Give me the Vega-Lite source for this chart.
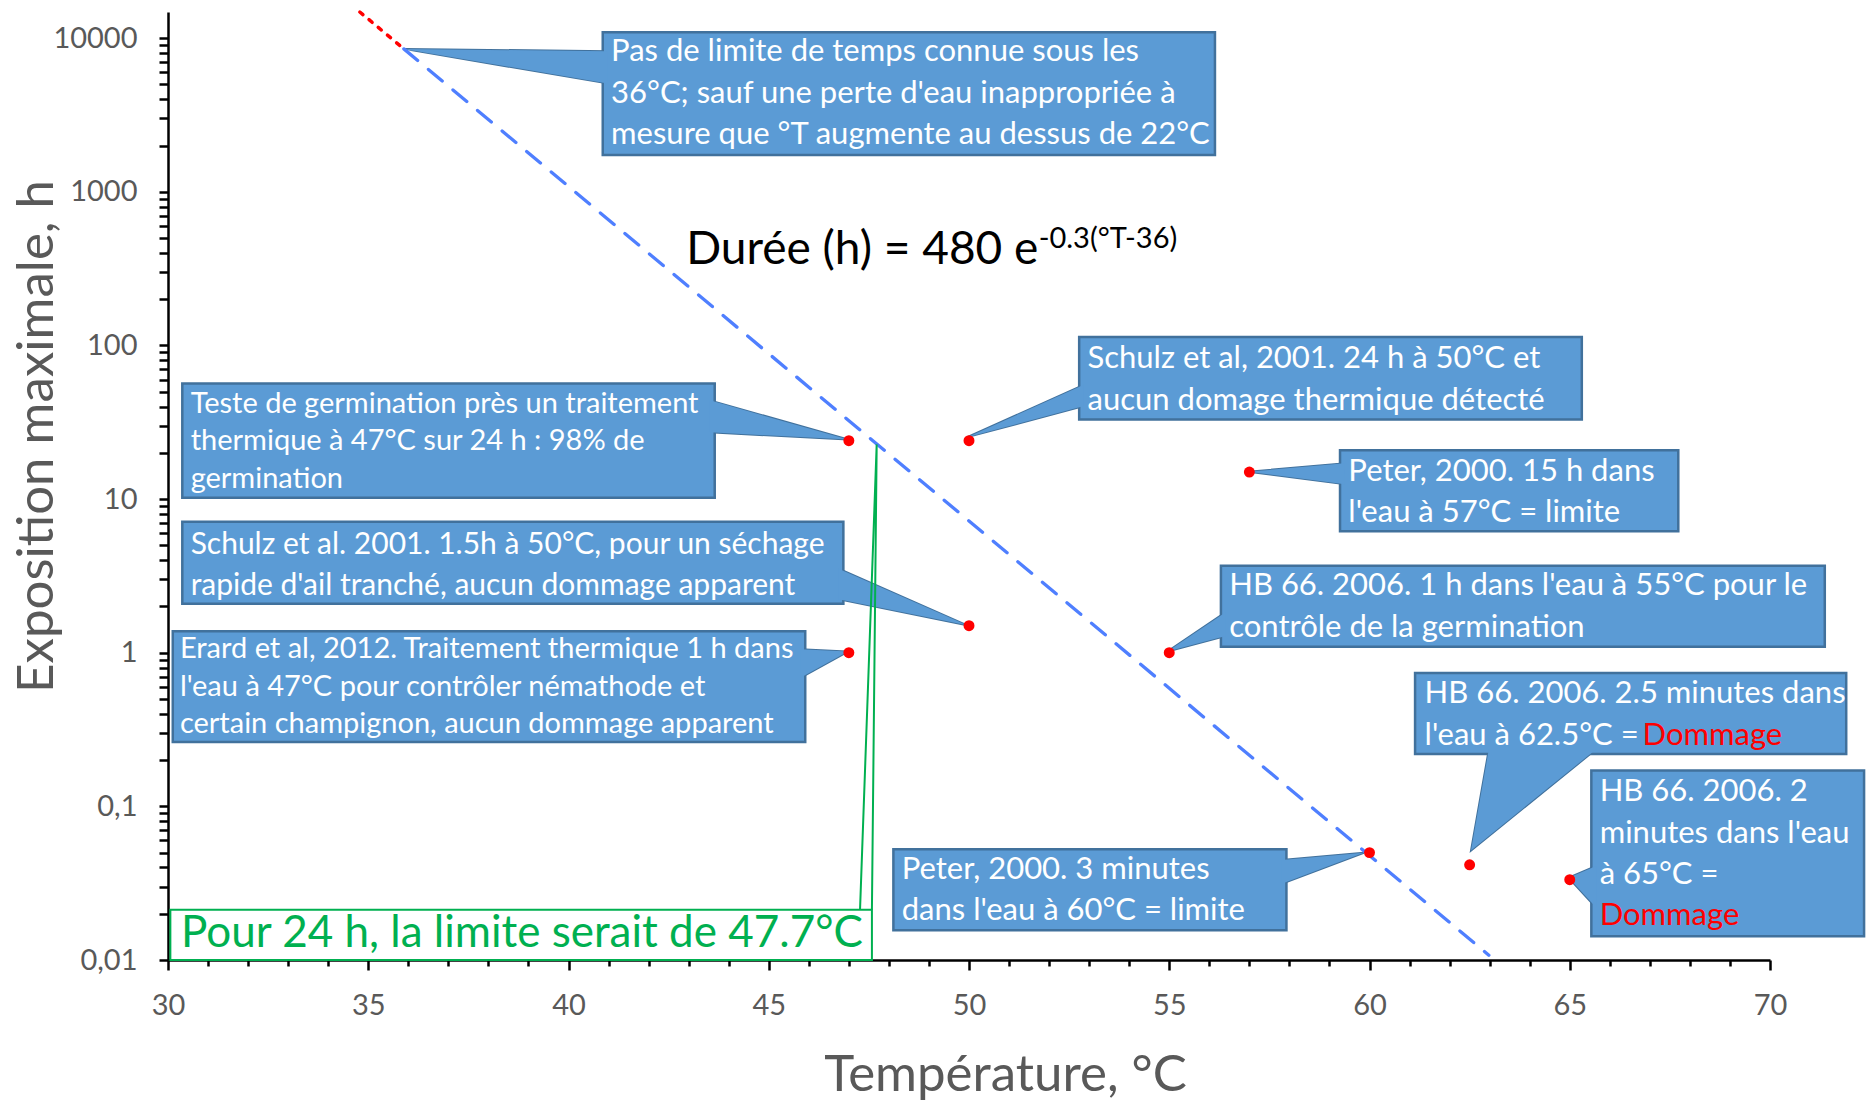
{
  "$schema": "https://vega.github.io/schema/vega-lite/v6.json",
  "width": 1602,
  "height": 948,
  "autosize": {"type": "none"},
  "padding": {"left": 168, "top": 12, "right": 98, "bottom": 141},
  "background": "white",
  "config": {"view": {"stroke": null}, "font": "Lato"},
  "resolve": {"axis": {"x": "independent", "y": "independent"}},
  "datasets": {
    "dots": [
      {"x": 47, "y": 24}, {"x": 50, "y": 24}, {"x": 57, "y": 15}, {"x": 50, "y": 1.5},
      {"x": 47, "y": 1}, {"x": 55, "y": 1}, {"x": 60, "y": 0.05}, {"x": 62.5, "y": 0.04167}, {"x": 65, "y": 0.03333}
    ],
    "boxes": [
      {"id": "b1", "x": 40.855, "x2": 56.141, "y": 10935, "y2": 1739},
      {"id": "b2", "x": 30.357, "x2": 43.651, "y": 56.5, "y2": 10.19},
      {"id": "b3", "x": 30.357, "x2": 46.863, "y": 7.13, "y2": 2.08},
      {"id": "b4", "x": 30.119, "x2": 45.911, "y": 1.38, "y2": 0.2624},
      {"id": "b5", "x": 52.751, "x2": 65.301, "y": 113.3, "y2": 33.0},
      {"id": "b6", "x": 59.264, "x2": 67.71, "y": 20.8, "y2": 6.18},
      {"id": "b7", "x": 56.29, "x2": 71.368, "y": 3.68, "y2": 1.094},
      {"id": "b8", "x": 61.138, "x2": 71.903, "y": 0.738, "y2": 0.2193},
      {"id": "b9", "x": 65.539, "x2": 72.349, "y": 0.171, "y2": 0.01428},
      {"id": "b10", "x": 48.112, "x2": 57.926, "y": 0.0526, "y2": 0.01563}
    ],
    "greenbox": [{"x": 30.059, "x2": 47.576, "y": 0.0212, "y2": 0.01}],
    "ptrV": [
      {"id": "p1", "x": 40.974, "y": 8215, "y2": 5075}, {"id": "p1", "x": 35.889, "y": 8515, "y2": 8515},
      {"id": "p2", "x": 43.53, "y": 43.9, "y2": 27.2}, {"id": "p2", "x": 46.98, "y": 24.4, "y2": 24.4},
      {"id": "p3", "x": 46.744, "y": 3.52, "y2": 2.23}, {"id": "p3", "x": 49.955, "y": 1.507, "y2": 1.507},
      {"id": "p4", "x": 45.792, "y": 1.055, "y2": 0.687}, {"id": "p4", "x": 46.98, "y": 1.018, "y2": 1.018},
      {"id": "p5", "x": 52.87, "y": 55.4, "y2": 40.3}, {"id": "p5", "x": 49.955, "y": 25.3, "y2": 25.3},
      {"id": "p6", "x": 59.383, "y": 17.1, "y2": 12.5}, {"id": "p6", "x": 56.974, "y": 15.07, "y2": 15.07},
      {"id": "p7", "x": 56.409, "y": 1.837, "y2": 1.285}, {"id": "p7", "x": 54.952, "y": 1.018, "y2": 1.018},
      {"id": "p9", "x": 65.658, "y": 0.0409, "y2": 0.02193}, {"id": "p9", "x": 64.973, "y": 0.0343, "y2": 0.0343},
      {"id": "p10", "x": 57.807, "y": 0.0448, "y2": 0.0313}, {"id": "p10", "x": 59.859, "y": 0.0499, "y2": 0.0499}
    ],
    "ptrH": [
      {"id": "p8", "y": 0.2353, "x": 62.98, "x2": 65.658}, {"id": "p8", "y": 0.05164, "x": 62.535, "x2": 62.535}
    ],
    "greenptr": [
      {"o": 1, "x": 47.279, "y": 0.0212}, {"o": 2, "x": 47.695, "y": 22.7}, {"o": 3, "x": 47.576, "y": 0.0212}
    ],
    "blueline": [{"x": 35.889, "y": 8515}, {"x": 62.98, "y": 0.01074}],
    "redline": [{"x": 34.79, "y": 14800}, {"x": 35.889, "y": 8515}],
    "txt": [
      {"g": "a", "x": 41.063, "y": 8072, "t": "Pas de limite de temps connue sous les"},
      {"g": "a", "x": 41.063, "y": 4322, "t": "36°C; sauf une perte d'eau inappropriée à"},
      {"g": "a", "x": 41.063, "y": 2356, "t": "mesure que °T augmente au dessus de 22°C"},
      {"g": "b", "x": 30.565, "y": 41.7, "t": "Teste de germination près un traitement"},
      {"g": "b", "x": 30.565, "y": 23.99, "t": "thermique à 47°C sur 24 h : 98% de"},
      {"g": "b", "x": 30.565, "y": 13.55, "t": "germination"},
      {"g": "c", "x": 30.565, "y": 4.99, "t": "Schulz et al. 2001. 1.5h à 50°C, pour un séchage"},
      {"g": "c", "x": 30.565, "y": 2.72, "t": "rapide d'ail tranché, aucun dommage apparent"},
      {"g": "b", "x": 30.297, "y": 1.055, "t": "Erard et al, 2012. Traitement thermique 1 h dans"},
      {"g": "b", "x": 30.297, "y": 0.596, "t": "l'eau à 47°C pour contrôler  némathode et"},
      {"g": "b", "x": 30.297, "y": 0.3426, "t": "certain champignon, aucun dommage apparent"},
      {"g": "a", "x": 52.959, "y": 82.2, "t": "Schulz et al, 2001. 24 h à 50°C et"},
      {"g": "a", "x": 52.959, "y": 43.3, "t": "aucun domage thermique détecté"},
      {"g": "a", "x": 59.472, "y": 15.07, "t": "Peter, 2000. 15 h dans"},
      {"g": "a", "x": 59.472, "y": 8.07, "t": "l'eau à 57°C = limite"},
      {"g": "a", "x": 56.498, "y": 2.72, "t": "HB 66. 2006. 1 h dans l'eau à 55°C  pour le"},
      {"g": "a", "x": 56.498, "y": 1.455, "t": "contrôle de la germination"},
      {"g": "a", "x": 61.375, "y": 0.5355, "t": "HB 66. 2006. 2.5 minutes dans"},
      {"g": "a", "x": 61.375, "y": 0.2867, "t": "l'eau à 62.5°C ="},
      {"g": "a", "x": 65.747, "y": 0.1239, "t": "HB 66. 2006. 2"},
      {"g": "a", "x": 65.747, "y": 0.0664, "t": "minutes dans l'eau"},
      {"g": "a", "x": 65.747, "y": 0.0355, "t": "à 65°C ="},
      {"g": "a", "x": 48.32, "y": 0.0388, "t": "Peter, 2000. 3 minutes"},
      {"g": "a", "x": 48.32, "y": 0.0208, "t": "dans l'eau à 60°C  = limite"}
    ],
    "txtRed": [
      {"x": 66.818, "y": 0.2867, "t": "Dommage"},
      {"x": 65.747, "y": 0.01935, "t": "Dommage"}
    ],
    "eq": [{"x": 42.937, "y": 336.5, "t": "Durée (h) = 480 e"}],
    "eqsup": [{"x": 51.74, "y": 432, "t": "-0.3(°T-36)"}],
    "greentxt": [{"x": 30.327, "y": 0.01483, "t": "Pour 24 h, la limite serait de 47.7°C"}]
  },
  "layer": [
    {
      "data": {"name": "dots"},
      "mark": {"type": "point", "opacity": 0},
      "encoding": {
        "x": {"field": "x", "type": "quantitative", "scale": {"domain": [30, 70], "nice": false, "zero": false},
          "axis": {"orient": "bottom",
            "values": [30,31,32,33,34,35,36,37,38,39,40,41,42,43,44,45,46,47,48,49,50,51,52,53,54,55,56,57,58,59,60,61,62,63,64,65,66,67,68,69,70],
            "labelExpr": "datum.value % 5 == 0 ? datum.label : ''",
            "grid": false,
            "title": "Température, °C", "titleFont": "Lato", "titleFontSize": 51, "titleFontWeight": "normal", "titleColor": "#595959",
            "titleX": 837, "titleY": 130, "titleBaseline": "alphabetic", "titleAlign": "center",
            "labelFont": "Lato", "labelFontSize": 29, "labelColor": "#595959", "labelPadding": 44, "labelBaseline": "alphabetic",
            "labelFlush": false, "labelOverlap": false,
            "tickSize": 10,
            "tickDash": {"condition": {"test": "datum.value % 5 != 0", "value": [6, 40]}, "value": [20, 0]},
            "tickWidth": 2.5, "tickColor": "black", "domainColor": "black", "domainWidth": 2.5}},
        "y": {"field": "y", "type": "quantitative", "scale": {"type": "log", "domain": [0.01, 14800], "nice": false},
          "axis": {"orient": "left",
            "values": [0.01,0.02,0.03,0.04,0.05,0.06,0.07,0.08,0.09,0.1,0.2,0.3,0.4,0.5,0.6,0.7,0.8,0.9,1,2,3,4,5,6,7,8,9,10,20,30,40,50,60,70,80,90,100,200,300,400,500,600,700,800,900,1000,2000,3000,4000,5000,6000,7000,8000,9000,10000],
            "grid": false,
            "labelExpr": "abs(log(datum.value) / LN10 - round(log(datum.value) / LN10)) < 0.000001 ? replace('' + datum.value, '.', ',') : ''",
            "title": "Exposition maximale, h", "titleFont": "Lato", "titleFontSize": 51, "titleFontWeight": "normal", "titleColor": "#595959",
            "titleX": -116, "titleY": 424, "titleAngle": 270, "titleBaseline": "alphabetic", "titleAlign": "center",
            "labelFont": "Lato", "labelFontSize": 29, "labelColor": "#595959", "labelPadding": 22, "labelBaseline": "middle",
            "labelFlush": false, "labelOverlap": false,
            "tickSize": 9,
            "tickWidth": 2.5, "tickColor": "black", "domainColor": "black", "domainWidth": 2.5}}
      }
    },
    {
      "data": {"name": "ptrV"},
      "mark": {"type": "area", "orient": "vertical", "fill": "#5B9BD5", "stroke": "#41719C", "strokeWidth": 2, "interpolate": "linear"},
      "encoding": {
        "x": {"field": "x", "type": "quantitative", "axis": null},
        "y": {"field": "y", "type": "quantitative", "stack": null, "axis": null},
        "y2": {"field": "y2"},
        "detail": {"field": "id"}
      }
    },
    {
      "data": {"name": "ptrH"},
      "mark": {"type": "area", "orient": "horizontal", "fill": "#5B9BD5", "stroke": "#41719C", "strokeWidth": 2, "interpolate": "linear"},
      "encoding": {
        "y": {"field": "y", "type": "quantitative", "axis": null},
        "x": {"field": "x", "type": "quantitative", "stack": null, "axis": null},
        "x2": {"field": "x2"},
        "detail": {"field": "id"}
      }
    },
    {
      "data": {"name": "boxes"},
      "mark": {"type": "rect", "fill": "#5B9BD5", "stroke": "#41719C", "strokeWidth": 2.5},
      "encoding": {
        "x": {"field": "x", "type": "quantitative", "axis": null},
        "x2": {"field": "x2"},
        "y": {"field": "y", "type": "quantitative", "axis": null},
        "y2": {"field": "y2"}
      }
    },
    {
      "data": {"name": "ptrV"},
      "mark": {"type": "area", "orient": "vertical", "fill": "#5B9BD5", "interpolate": "linear"},
      "encoding": {
        "x": {"field": "x", "type": "quantitative", "axis": null},
        "y": {"field": "y", "type": "quantitative", "stack": null, "axis": null},
        "y2": {"field": "y2"},
        "detail": {"field": "id"}
      }
    },
    {
      "data": {"name": "ptrH"},
      "mark": {"type": "area", "orient": "horizontal", "fill": "#5B9BD5", "interpolate": "linear"},
      "encoding": {
        "y": {"field": "y", "type": "quantitative", "axis": null},
        "x": {"field": "x", "type": "quantitative", "stack": null, "axis": null},
        "x2": {"field": "x2"},
        "detail": {"field": "id"}
      }
    },
    {
      "data": {"name": "blueline"},
      "mark": {"type": "line", "stroke": "#4F7FFF", "strokeWidth": 3.3, "strokeDash": [18, 14], "strokeCap": "round"},
      "encoding": {
        "x": {"field": "x", "type": "quantitative", "axis": null},
        "y": {"field": "y", "type": "quantitative", "axis": null}
      }
    },
    {
      "data": {"name": "redline"},
      "mark": {"type": "line", "stroke": "#FF0000", "strokeWidth": 3.5, "strokeDash": [4, 8], "strokeCap": "round"},
      "encoding": {
        "x": {"field": "x", "type": "quantitative", "axis": null},
        "y": {"field": "y", "type": "quantitative", "axis": null}
      }
    },
    {
      "data": {"name": "greenptr"},
      "mark": {"type": "line", "stroke": "#00B050", "strokeWidth": 2},
      "encoding": {
        "x": {"field": "x", "type": "quantitative", "axis": null},
        "y": {"field": "y", "type": "quantitative", "axis": null},
        "order": {"field": "o", "type": "quantitative"}
      }
    },
    {
      "data": {"name": "greenbox"},
      "mark": {"type": "rect", "fill": "white", "stroke": "#00B050", "strokeWidth": 2},
      "encoding": {
        "x": {"field": "x", "type": "quantitative", "axis": null},
        "x2": {"field": "x2"},
        "y": {"field": "y", "type": "quantitative", "axis": null},
        "y2": {"field": "y2"}
      }
    },
    {
      "data": {"name": "dots"},
      "mark": {"type": "circle", "fill": "#FF0000", "opacity": 1, "size": 120},
      "encoding": {
        "x": {"field": "x", "type": "quantitative", "axis": null},
        "y": {"field": "y", "type": "quantitative", "axis": null}
      }
    },
    {
      "data": {"name": "txt"},
      "transform": [{"filter": "datum.g == 'a'"}],
      "mark": {"type": "text", "align": "left", "baseline": "middle", "font": "Lato", "fontSize": 31, "fill": "white"},
      "encoding": {
        "x": {"field": "x", "type": "quantitative", "axis": null},
        "y": {"field": "y", "type": "quantitative", "axis": null},
        "text": {"field": "t"}
      }
    },
    {
      "data": {"name": "txt"},
      "transform": [{"filter": "datum.g == 'b'"}],
      "mark": {"type": "text", "align": "left", "baseline": "middle", "font": "Lato", "fontSize": 29, "fill": "white"},
      "encoding": {
        "x": {"field": "x", "type": "quantitative", "axis": null},
        "y": {"field": "y", "type": "quantitative", "axis": null},
        "text": {"field": "t"}
      }
    },
    {
      "data": {"name": "txt"},
      "transform": [{"filter": "datum.g == 'c'"}],
      "mark": {"type": "text", "align": "left", "baseline": "middle", "font": "Lato", "fontSize": 30, "fill": "white"},
      "encoding": {
        "x": {"field": "x", "type": "quantitative", "axis": null},
        "y": {"field": "y", "type": "quantitative", "axis": null},
        "text": {"field": "t"}
      }
    },
    {
      "data": {"name": "txtRed"},
      "mark": {"type": "text", "align": "left", "baseline": "middle", "font": "Lato", "fontSize": 31, "fill": "#FF0000"},
      "encoding": {
        "x": {"field": "x", "type": "quantitative", "axis": null},
        "y": {"field": "y", "type": "quantitative", "axis": null},
        "text": {"field": "t"}
      }
    },
    {
      "data": {"name": "eq"},
      "mark": {"type": "text", "align": "left", "baseline": "alphabetic", "font": "Lato", "fontSize": 46, "fill": "black"},
      "encoding": {
        "x": {"field": "x", "type": "quantitative", "axis": null},
        "y": {"field": "y", "type": "quantitative", "axis": null},
        "text": {"field": "t"}
      }
    },
    {
      "data": {"name": "eqsup"},
      "mark": {"type": "text", "align": "left", "baseline": "alphabetic", "font": "Lato", "fontSize": 29, "fill": "black"},
      "encoding": {
        "x": {"field": "x", "type": "quantitative", "axis": null},
        "y": {"field": "y", "type": "quantitative", "axis": null},
        "text": {"field": "t"}
      }
    },
    {
      "data": {"name": "greentxt"},
      "mark": {"type": "text", "align": "left", "baseline": "middle", "font": "Lato", "fontSize": 44, "fill": "#00B050"},
      "encoding": {
        "x": {"field": "x", "type": "quantitative", "axis": null},
        "y": {"field": "y", "type": "quantitative", "axis": null},
        "text": {"field": "t"}
      }
    }
  ]
}
